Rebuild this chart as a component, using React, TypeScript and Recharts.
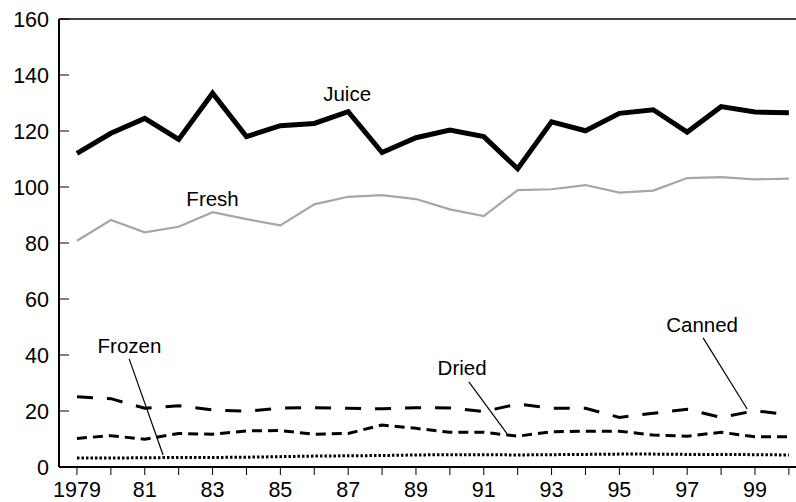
import { LineChart, Line, XAxis, YAxis, ReferenceLine, ReferenceDot } from "recharts";

const years = [
  1979, 1980, 1981, 1982, 1983, 1984, 1985, 1986, 1987, 1988, 1989,
  1990, 1991, 1992, 1993, 1994, 1995, 1996, 1997, 1998, 1999, 2000,
];
const juice = [
  112, 119.2, 124.5, 117, 133.5, 118, 121.9, 122.7, 126.9, 112.3, 117.6,
  120.3, 118, 106.5, 123.3, 120.1, 126.3, 127.6, 119.6, 128.7, 126.8, 126.5,
];
const fresh = [
  80.8, 88.2, 83.8, 85.8, 91, 88.5, 86.3, 93.8, 96.5, 97.1, 95.7,
  92, 89.6, 98.9, 99.2, 100.7, 98, 98.7, 103.2, 103.5, 102.7, 103,
];
const canned = [
  25.1, 24.4, 21, 21.9, 20.4, 19.9, 21, 21.2, 21, 20.8, 21.2,
  21.1, 19.8, 22.5, 21, 21, 17.7, 19.2, 20.6, 17.7, 20.1, 18.6,
];
const dried = [
  10.2, 11.2, 9.9, 12, 11.7, 12.9, 13, 11.7, 12, 15, 13.8,
  12.4, 12.4, 11, 12.6, 12.8, 12.8, 11.4, 11, 12.4, 10.8, 10.8,
];
const frozen = [
  3.2, 3.2, 3.3, 3.4, 3.4, 3.5, 3.7, 3.9, 4, 4.1, 4.3,
  4.4, 4.4, 4.3, 4.4, 4.5, 4.6, 4.6, 4.5, 4.5, 4.4, 4.3,
];
const yTicks = [0, 20, 40, 60, 80, 100, 120, 140, 160];

const data = years.map((year, i) => ({
  year,
  juice: juice[i],
  fresh: fresh[i],
  canned: canned[i],
  dried: dried[i],
  frozen: frozen[i],
}));

const font = "'Liberation Sans', Arial, sans-serif";
const labelStyle = {
  fontSize: 20.5,
  fill: "#000",
  stroke: "none",
  fontWeight: 400,
  fontFamily: font,
};

const labels = [
  { text: "Juice", x: 1986.97, y: 133.2 },
  { text: "Fresh", x: 1983.0, y: 95.7 },
  { text: "Frozen", x: 1980.55, y: 43.2 },
  { text: "Dried", x: 1990.36, y: 35.4 },
  { text: "Canned", x: 1997.44, y: 50.7 },
];

const leaders = [
  [{ x: 1980.54, y: 38.6 }, { x: 1981.54, y: 4.3 }],
  [{ x: 1990.56, y: 30.4 }, { x: 1991.69, y: 11.8 }],
  [{ x: 1997.47, y: 46.1 }, { x: 1998.77, y: 20.7 }],
];

const fmtYear = (v: number) => {
  if (v === 1979) return "1979";
  if (v % 2 === 0) return "";
  return String(v % 100).padStart(2, "0");
};

export default function App() {
  return (
    <div style={{ position: "absolute", left: 0, top: 0, fontFamily: font }}>
      <LineChart
        width={796}
        height={502}
        data={data}
        margin={{ top: 19, right: 0, left: 0, bottom: 0 }}
      >
        <XAxis
          dataKey="year"
          type="number"
          domain={[1978.47, 2000.21]}
          ticks={years}
          interval={0}
          tickFormatter={fmtYear}
          height={35}
          tickSize={8}
          tickMargin={7}
          axisLine={{ stroke: "#000", strokeWidth: 2 }}
          tickLine={{ stroke: "#000", strokeWidth: 1 }}
          tick={{ fontSize: 21.5, fill: "#000", fontFamily: font }}
        />
        <YAxis
          domain={[0, 160]}
          ticks={yTicks}
          width={59}
          tickSize={-10}
          tickMargin={20}
          axisLine={{ stroke: "#000", strokeWidth: 2 }}
          tickLine={{ stroke: "#000", strokeWidth: 1 }}
          tick={{ fontSize: 21.5, fill: "#000", fontFamily: font }}
        />
        <ReferenceLine y={160} stroke="#000" strokeWidth={1.5} />
        <Line
          dataKey="fresh"
          stroke="#a6a6a6"
          strokeWidth={2.2}
          dot={false}
          isAnimationActive={false}
        />
        <Line
          dataKey="juice"
          stroke="#000"
          strokeWidth={5}
          dot={false}
          isAnimationActive={false}
        />
        <Line
          dataKey="canned"
          stroke="#000"
          strokeWidth={3}
          strokeDasharray="16 14"
          dot={false}
          isAnimationActive={false}
        />
        <Line
          dataKey="dried"
          stroke="#000"
          strokeWidth={3}
          strokeDasharray="10 6"
          dot={false}
          isAnimationActive={false}
        />
        <Line
          dataKey="frozen"
          stroke="#000"
          strokeWidth={3}
          strokeDasharray="2.5 2"
          dot={false}
          isAnimationActive={false}
        />
        {leaders.map((seg, i) => (
          <ReferenceLine
            key={"l" + i}
            segment={seg}
            stroke="#000"
            strokeWidth={1.2}
            ifOverflow="visible"
          />
        ))}
        {labels.map((l) => (
          <ReferenceDot
            key={l.text}
            x={l.x}
            y={l.y}
            r={0}
            fill="none"
            stroke="none"
            ifOverflow="visible"
            label={{ value: l.text, position: "center", ...labelStyle }}
          />
        ))}
      </LineChart>
    </div>
  );
}
